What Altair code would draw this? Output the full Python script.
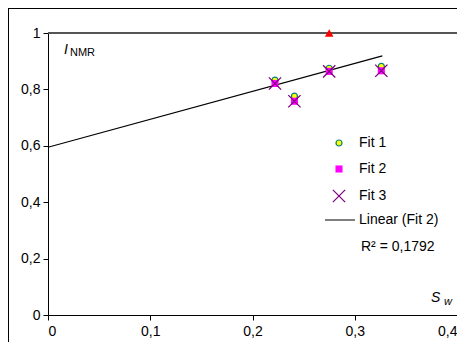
import altair as alt
import pandas as pd

# ---- data ----
sw_values = [0.222, 0.241, 0.275, 0.326]
fit1_values = [0.833, 0.776, 0.875, 0.882]
fit2_values = [0.821, 0.758, 0.864, 0.866]
fit3_values = [0.821, 0.758, 0.864, 0.866]
outlier_sw = [0.275]
outlier_i = [1.0]
trend_sw = [0.0, 0.327]
trend_i = [0.595, 0.919]
r2_label = "R² = 0,1792"
x_ticks = [0, 0.1, 0.2, 0.3, 0.4]
y_ticks = [0, 0.2, 0.4, 0.6, 0.8, 1.0]

FONT = "Liberation Sans"
W, H = 409, 282

df_fit = pd.DataFrame({"sw": sw_values, "fit1": fit1_values,
                       "fit2": fit2_values, "fit3": fit3_values})
df_out = pd.DataFrame({"sw": outlier_sw, "i": outlier_i})
df_trend = pd.DataFrame({"sw": trend_sw, "i": trend_i})

label_expr = "replace(format(datum.value, '~g'), '.', ',')"
xscale = alt.Scale(domain=[0, 0.4], nice=False, zero=False)
yscale = alt.Scale(domain=[0, 1], nice=False)
xaxis = alt.Axis(values=x_ticks, labelExpr=label_expr, title=None, grid=False,
                 domain=False, tickSize=5, tickColor="black", labelColor="black",
                 labelFont=FONT, labelFontSize=14, labelPadding=4)
yaxis = alt.Axis(values=y_ticks, labelExpr=label_expr, title=None, grid=False,
                 domain=False, tickSize=5, tickColor="black", labelColor="black",
                 labelFont=FONT, labelFontSize=14, labelPadding=3)

X_PATH = "M-1,-1L1,1M-1,1L1,-1"

base = alt.Chart(df_fit)

trend = alt.Chart(df_trend).mark_line(color="black", strokeWidth=1.2).encode(
    x=alt.X("sw:Q", scale=xscale, axis=xaxis),
    y=alt.Y("i:Q", scale=yscale, axis=yaxis),
)
fit1 = base.mark_point(shape="circle", filled=True, fill="#FFFF00",
                       stroke="#008080", strokeWidth=1.2, size=36, opacity=1).encode(
    x=alt.X("sw:Q", scale=xscale), y=alt.Y("fit1:Q", scale=yscale))
fit2 = base.mark_point(shape="square", filled=True, color="#FF00FF",
                       size=50, opacity=1).encode(
    x=alt.X("sw:Q", scale=xscale), y=alt.Y("fit2:Q", scale=yscale))
fit3 = base.mark_point(shape=X_PATH, filled=False, stroke="#800080",
                       strokeWidth=1.3, size=150, opacity=1).encode(
    x=alt.X("sw:Q", scale=xscale), y=alt.Y("fit3:Q", scale=yscale))
outlier = alt.Chart(df_out).mark_point(shape="triangle-up", filled=True,
                                       color="#FF0000", size=75, opacity=1).encode(
    x=alt.X("sw:Q", scale=xscale), y=alt.Y("i:Q", scale=yscale))

one = pd.DataFrame({"k": [0]})

def txt(s, x, y, size=14, style="normal", align="left", baseline="middle"):
    return alt.Chart(one).mark_text(text=s, font=FONT, fontSize=size, fontStyle=style,
                                    align=align, baseline=baseline, color="black").encode(
        x=alt.value(x), y=alt.value(y))

# legend drawn inside the plot
lx, tx = 291, 311
leg_c = alt.Chart(one).mark_point(shape="circle", filled=True, fill="#FFFF00",
                                  stroke="#008080", strokeWidth=1.2, size=36, opacity=1).encode(
    x=alt.value(lx), y=alt.value(110))
leg_s = alt.Chart(one).mark_point(shape="square", filled=True, color="#FF00FF",
                                  size=50, opacity=1).encode(x=alt.value(lx), y=alt.value(136))
leg_x = alt.Chart(one).mark_point(shape=X_PATH, filled=False, stroke="#800080",
                                  strokeWidth=1.3, size=150, opacity=1).encode(
    x=alt.value(lx), y=alt.value(163))
leg_l = alt.Chart(one).mark_rule(color="black", strokeWidth=1).encode(
    x=alt.value(277), x2=alt.value(307), y=alt.value(187))

top_border = alt.Chart(one).mark_rule(color="#555555", strokeWidth=2).encode(
    x=alt.value(0), x2=alt.value(W), y=alt.value(0))

frame = alt.Chart(one).mark_rect(fillOpacity=0, stroke="black", strokeWidth=2).encode(
    x=alt.value(-40), x2=alt.value(700), y=alt.value(-25), y2=alt.value(700))

chart = alt.layer(
    frame, top_border, trend, fit1, fit2, fit3, outlier,
    leg_c, leg_s, leg_x, leg_l,
    txt("Fit 1", tx, 110), txt("Fit 2", tx, 136), txt("Fit 3", tx, 163),
    txt("Linear (Fit 2)", tx, 187), txt(r2_label, 313, 214),
    txt("I", 16, 17, size=14, style="italic"),
    txt("NMR", 22, 20, size=11),
    txt("S", 383, 265, size=14, style="italic"),
    txt("w", 396, 269, size=11, style="italic"),
).properties(
    width=W, height=H,
    autosize=alt.AutoSizeParams(type="none"),
    padding={"left": 40, "top": 25, "right": 0, "bottom": 27},
).configure_view(stroke="black", strokeWidth=1)

chart.save("out.html", embed_options={"renderer": "svg", "actions": False})
